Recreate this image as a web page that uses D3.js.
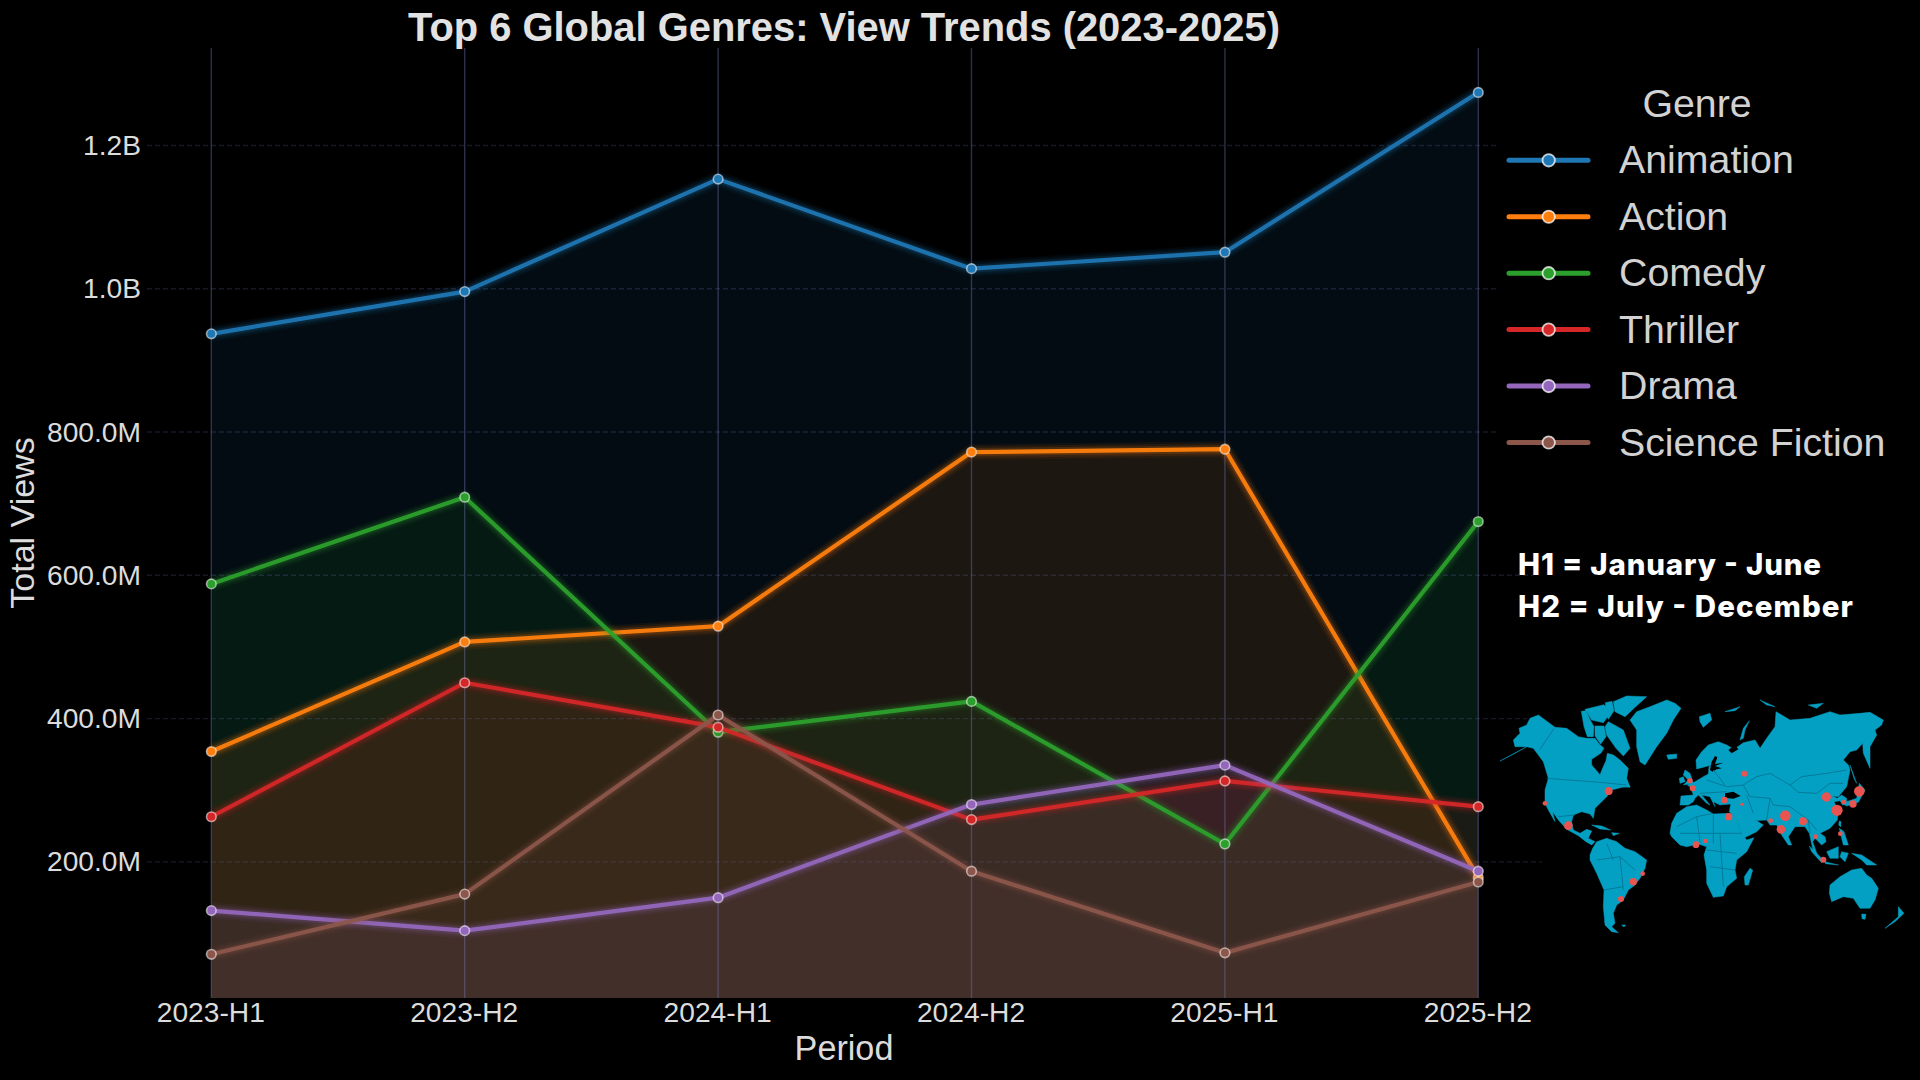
<!DOCTYPE html>
<html>
<head>
<meta charset="utf-8">
<title>Top 6 Global Genres</title>
<script src="https://cdn.jsdelivr.net/npm/d3@7/dist/d3.min.js"></script>
<style>
  html, body { margin: 0; padding: 0; background: #000; }
  svg { display: block; }
  text { font-family: "Liberation Sans", Arial, sans-serif; }
</style>
</head>
<body>
<svg id="chart" width="1920" height="1080"></svg>
<script>
// Half-year periods and views per genre, in millions
const periods = ["2023-H1", "2023-H2", "2024-H1", "2024-H2", "2025-H1", "2025-H2"];
const genres = ["Animation", "Action", "Comedy", "Thriller", "Drama", "Science Fiction"];
const animation = [937, 996, 1153, 1028, 1051, 1274];
const action = [354, 507, 529, 772, 776, 178];
const comedy = [588, 709, 381, 424, 225, 675];
const thriller = [263, 450, 388, 259, 313, 277];
const drama = [132, 104, 150, 280, 335, 187];
const sciFi = [71, 155, 405, 187, 73, 172];
const seriesValues = [animation, action, comedy, thriller, drama, sciFi];
const palette = ["#1f77b4", "#ff7f0e", "#2ca02c", "#d62728", "#9467bd", "#8c564b"];
const viewTicks = [200, 400, 600, 800, 1000, 1200];
const noteLines = ["H1 = January - June", "H2 = July - December"];

// Simplified world outline for the inset map, in the inset's own 1320x840 grid
const mapLand = [
  // North and Central America
  [[60,273],[105,250],[140,230],[105,230],[100,210],[120,190],[117,175],[140,165],[150,145],[175,135],[225,172],[260,175],[295,200],[320,205],[345,205],[358,222],[372,235],[362,250],[335,268],[335,285],[360,314],[369,292],[378,272],[382,250],[400,255],[420,270],[445,295],[440,325],[450,352],[430,350],[415,355],[395,360],[380,380],[365,395],[345,415],[340,445],[330,432],[305,425],[280,435],[275,455],[280,480],[300,490],[320,478],[335,483],[325,505],[345,515],[335,525],[318,515],[295,497],[260,478],[235,450],[218,425],[225,455],[205,420],[195,400],[195,360],[205,325],[190,275],[160,235],[140,230]],
  // Arctic Canada
  [[385,155],[430,180],[450,235],[430,258],[408,235],[380,195],[375,170]],
  [[315,118],[372,104],[392,128],[370,158],[335,150]],
  [[400,95],[440,78],[500,80],[465,112],[435,140],[405,125]],
  [[345,168],[372,168],[378,200],[362,222],[345,198]],
  [[376,98],[396,94],[402,122],[385,148],[378,128]],
  [[304,124],[318,122],[332,152],[342,170],[340,200],[322,200],[312,170]],
  [[412,340],[440,335],[450,350],[425,352]],
  // Greenland
  [[450,150],[470,125],[510,110],[560,90],[585,100],[603,115],[580,150],[560,190],[530,230],[495,285],[480,275],[470,230],[470,180]],
  // Caribbean
  [[335,465],[365,468],[392,480],[360,477]],
  [[395,488],[418,490],[400,497]],
  // South America
  [[338,535],[350,515],[380,505],[410,515],[435,535],[465,545],[500,570],[495,595],[480,625],[465,645],[445,660],[430,690],[410,705],[400,730],[405,760],[395,770],[415,788],[395,785],[375,765],[370,710],[372,660],[350,610],[330,570],[330,555]],
  [[425,765],[437,765],[432,771]],
  // Africa
  [[570,490],[575,460],[590,430],[620,410],[650,405],[680,420],[700,432],[745,430],[765,437],[785,490],[800,510],[822,503],[800,545],[770,570],[765,600],[770,625],[740,650],[730,678],[700,682],[680,640],[680,600],[672,555],[680,530],[655,522],[620,530],[600,525],[575,500]],
  [[810,595],[818,600],[805,645],[795,645],[793,620]],
  // Eurasia
  [[600,405],[603,378],[640,375],[632,352],[622,345],[645,335],[670,320],[685,312],[687,290],[695,285],[650,297],[648,270],[665,245],[685,225],[715,215],[740,225],[762,238],[790,218],[825,210],[840,235],[860,205],[885,170],[888,125],[930,150],[990,145],[1050,125],[1080,135],[1140,130],[1170,127],[1210,150],[1205,165],[1185,180],[1190,195],[1170,230],[1170,295],[1150,250],[1148,220],[1130,240],[1110,245],[1090,270],[1105,285],[1110,300],[1100,350],[1075,380],[1055,378],[1072,385],[1085,375],[1100,385],[1100,400],[1088,405],[1080,392],[1062,395],[1075,420],[1072,450],[1050,475],[1020,490],[1035,500],[1038,515],[1025,525],[1005,505],[998,515],[1012,555],[1000,545],[988,490],[975,470],[945,470],[925,500],[935,525],[925,525],[905,495],[890,465],[870,465],[860,450],[820,452],[806,432],[822,447],[850,465],[830,485],[790,505],[770,450],[748,425],[752,402],[720,405],[700,395],[705,410],[690,380],[665,375],[690,405],[680,400],[655,375],[645,385],[640,395],[625,405]],
  // European and northern islands
  [[615,300],[630,310],[640,340],[610,345],[625,330],[610,315]],
  [[598,325],[610,320],[615,335],[600,340]],
  [[658,140],[690,130],[695,150],[670,172],[660,155]],
  [[735,125],[780,110],[765,122]],
  [[780,210],[790,175],[808,152],[795,180],[790,205]],
  [[840,90],[885,110],[860,105]],
  [[985,105],[1030,100],[1010,115]],
  [[560,255],[590,252],[590,265],[565,268]],
  // Sakhalin, Japan, South-East Asia
  [[1110,285],[1130,340],[1122,325]],
  [[1085,400],[1130,385],[1138,340],[1155,360],[1135,397],[1100,408]],
  [[1078,453],[1083,455],[1082,471],[1076,465]],
  [[1078,475],[1092,485],[1105,525],[1090,525]],
  [[1040,545],[1075,530],[1075,565],[1050,565]],
  [[988,528],[1030,570],[1025,578],[995,545]],
  [[1035,575],[1075,585],[1036,581]],
  [[1085,545],[1105,550],[1095,575],[1080,560]],
  [[1115,550],[1145,555],[1190,585],[1160,585],[1145,570]],
  // Australia and New Zealand
  [[1050,645],[1080,620],[1115,600],[1145,595],[1160,615],[1175,625],[1195,655],[1185,690],[1170,715],[1140,715],[1120,685],[1090,680],[1055,695],[1048,670]],
  [[1145,732],[1158,733],[1155,748],[1146,746]],
  [[1255,710],[1272,730],[1245,755],[1215,775],[1255,740]]
];
// Enclosed seas, painted over the land
const mapSeas = [
  [[735,370],[760,365],[782,378],[760,386],[735,383]],
  [[705,258],[695,275],[690,300],[697,305],[710,298],[725,295],[705,288],[730,278],[705,282],[712,262]],
  [[755,250],[775,238],[765,225],[745,240]]
];
// Country borders kept in the inset
const mapBorders = [
  [[222,175],[180,238]],
  [[200,325],[360,337],[440,345]],
  [[235,440],[285,435]],
  [[790,345],[830,320],[870,310],[930,345],[965,320],[1040,310],[1100,300]],
  [[930,345],[955,367],[1010,370],[1050,340],[1090,340]],
  [[790,345],[810,380],[870,385],[880,405],[930,410],[985,450],[1010,480]],
  [[800,375],[820,430]], [[870,385],[860,450]], [[985,450],[990,490]],
  [[680,330],[740,350],[790,345]], [[660,370],[740,365]], [[700,300],[735,345]],
  [[590,470],[650,440],[700,430]], [[650,440],[660,515]], [[700,432],[700,520]], [[600,490],[720,490],[785,490]],
  [[680,540],[770,550]], [[690,590],[765,600]], [[720,490],[730,650]],
  [[350,570],[420,560],[465,600]], [[420,560],[430,660]], [[372,660],[430,650]], [[380,520],[400,570]]
];
// Audience hubs on the inset: x, y, radius
const mapHubs = [[630,332,8],[638,355,9],[733,390,10],[793,311,9],[786,403,5],[746,440,11],[648,524,10],[676,513,7],[916,437,16],[872,452,7],[903,478,13],[969,454,12],[1007,500,7],[1030,569,9],[1081,491,7],[1039,381,14],[1071,421,17],[1092,396,7],[1119,402,11],[1138,364,16],[386,363,12],[195,400,7],[265,467,13],[460,635,11],[488,611,7],[423,687,9]];

const svg = d3.select("#chart");
const inkLight = "#dcdcdc";

svg.append("rect").attr("width", 1920).attr("height", 1080).attr("fill", "#000");

const x = d3.scalePoint().domain(periods).range([211.3, 1478.3]);
const y = d3.scaleLinear().domain([10, 1336]).range([998, 48]);

const rows = genres.map((name, i) => ({
  name,
  color: palette[i],
  points: periods.map((p, j) => ({ period: p, value: seriesValues[i][j] }))
}));

const line = d3.line().x(d => x(d.period)).y(d => y(d.value));
const area = d3.area().x(d => x(d.period)).y0(y.range()[0]).y1(d => y(d.value));

// Filled regions under each genre
svg.append("g").selectAll("path").data(rows).join("path")
  .attr("d", d => area(d.points))
  .attr("fill", d => d.color)
  .attr("fill-opacity", 0.1);

// Grid: dashed horizontals stop at whatever panel sits to their right
const gridStop = v => v >= 800 ? 1496 : v === 600 ? 1533 : v === 400 ? 1527 : 1542;
svg.append("g").selectAll("line").data(viewTicks).join("line")
  .attr("x1", 147).attr("x2", gridStop)
  .attr("y1", d => y(d)).attr("y2", d => y(d))
  .attr("stroke", "#6a72c0").attr("stroke-opacity", 0.22)
  .attr("stroke-width", 1.4).attr("stroke-dasharray", "5,3");
svg.append("g").selectAll("line").data(periods).join("line")
  .attr("x1", d => x(d)).attr("x2", d => x(d))
  .attr("y1", y.range()[1]).attr("y2", y.range()[0])
  .attr("stroke", "#7a82c4").attr("stroke-opacity", 0.36)
  .attr("stroke-width", 1.4);

// Lines with a soft glow, then the point markers
const glowPasses = [[16, 0.06], [12, 0.09], [8, 0.16]];
const seriesGroups = svg.append("g").selectAll("g").data(rows).join("g");
glowPasses.forEach(([w, o]) => {
  seriesGroups.append("path")
    .attr("d", d => line(d.points))
    .attr("fill", "none").attr("stroke", d => d.color)
    .attr("stroke-width", w).attr("stroke-opacity", o)
    .attr("stroke-linejoin", "round");
});
seriesGroups.append("path")
  .attr("d", d => line(d.points))
  .attr("fill", "none").attr("stroke", d => d.color)
  .attr("stroke-width", 4.2).attr("stroke-opacity", 0.95)
  .attr("stroke-linejoin", "round");
seriesGroups.selectAll("circle").data(d => d.points.map(p => ({ ...p, color: d.color }))).join("circle")
  .attr("cx", d => x(d.period)).attr("cy", d => y(d.value)).attr("r", 4.8)
  .attr("fill", d => d.color)
  .attr("stroke", "#ffffff").attr("stroke-opacity", 0.55).attr("stroke-width", 1.6);

// Axes
const formatViews = v => v >= 1000 ? (v / 1000).toFixed(1) + "B" : v.toFixed(1) + "M";
const yAxis = svg.append("g").attr("transform", "translate(147,0)")
  .call(d3.axisLeft(y).tickValues(viewTicks).tickFormat(formatViews).tickSize(0).tickPadding(6));
const xAxis = svg.append("g").attr("transform", "translate(0,998)")
  .call(d3.axisBottom(x).tickSize(0).tickPadding(3));
[yAxis, xAxis].forEach(a => {
  a.select(".domain").remove();
  a.selectAll("text").attr("fill", inkLight)
    .style("font-family", "'Liberation Sans', Arial, sans-serif").style("font-size", "28.2px");
});
xAxis.selectAll("text").attr("dy", null).attr("y", 24).attr("dx", -1);

svg.append("text").attr("x", 844).attr("y", 41).attr("text-anchor", "middle")
  .attr("fill", "#e2e2e2").attr("font-weight", 700).attr("font-size", 39.9)
  .text("Top 6 Global Genres: View Trends (2023-2025)");
svg.append("text").attr("x", 844).attr("y", 1060).attr("text-anchor", "middle")
  .attr("fill", inkLight).attr("font-size", 34.2).text("Period");
svg.append("text").attr("transform", "translate(34,523) rotate(-90)").attr("text-anchor", "middle")
  .attr("fill", inkLight).attr("font-size", 34).text("Total Views");

// Legend
const legendRow = d3.scalePoint().domain(genres).range([160.3, 442.5]);
svg.append("text").attr("x", 1697).attr("y", 117).attr("text-anchor", "middle")
  .attr("fill", "#d2d2d2").attr("font-size", 39.3).text("Genre");
const legendItems = svg.append("g").selectAll("g").data(rows).join("g")
  .attr("transform", d => `translate(0,${legendRow(d.name)})`);
legendItems.append("line").attr("x1", 1509).attr("x2", 1588)
  .attr("stroke", d => d.color).attr("stroke-width", 5).attr("stroke-linecap", "round");
legendItems.append("circle").attr("cx", 1548.7).attr("r", 6.2)
  .attr("fill", d => d.color).attr("stroke", "#fff").attr("stroke-opacity", 0.75).attr("stroke-width", 1.8);
legendItems.append("text").attr("x", 1619).attr("y", 13)
  .attr("fill", "#d2d2d2").attr("font-size", 39.3).text(d => d.name);

// Period note
svg.append("g").selectAll("text").data(noteLines).join("text")
  .attr("x", 1518).attr("y", (d, i) => 575 + i * 41.7)
  .attr("fill", "#fff").attr("font-weight", 800).attr("font-size", 29.5)
  .style("font-family", "Inter, 'Liberation Sans', sans-serif")
  .attr("textLength", (d, i) => i === 0 ? 303 : 335)
  .attr("lengthAdjust", "spacing")
  .text(d => d);

// Inset world map with audience hubs
const mapX = d3.scaleLinear().domain([0, 1320]).range([1480, 1920]);
const mapY = d3.scaleLinear().domain([0, 840]).range([670, 950]);
const ring = d3.line().x(d => mapX(d[0])).y(d => mapY(d[1]));
const closed = r => ring(r) + "Z";
const inset = svg.append("g");
inset.append("g").selectAll("path").data(mapLand).join("path")
  .attr("d", closed).attr("fill", "#04a0c3").attr("stroke", "#04a0c3").attr("stroke-width", 0.5);
inset.append("g").selectAll("path").data(mapSeas).join("path")
  .attr("d", closed).attr("fill", "#000");
inset.append("g").selectAll("path").data(mapBorders).join("path")
  .attr("d", ring).attr("fill", "none").attr("stroke", "#05708f").attr("stroke-width", 0.8);
inset.append("g").selectAll("circle").data(mapHubs).join("circle")
  .attr("cx", d => mapX(d[0])).attr("cy", d => mapY(d[1])).attr("r", d => d[2] / 3)
  .attr("fill", "#e8544f");
</script>
</body>
</html>
